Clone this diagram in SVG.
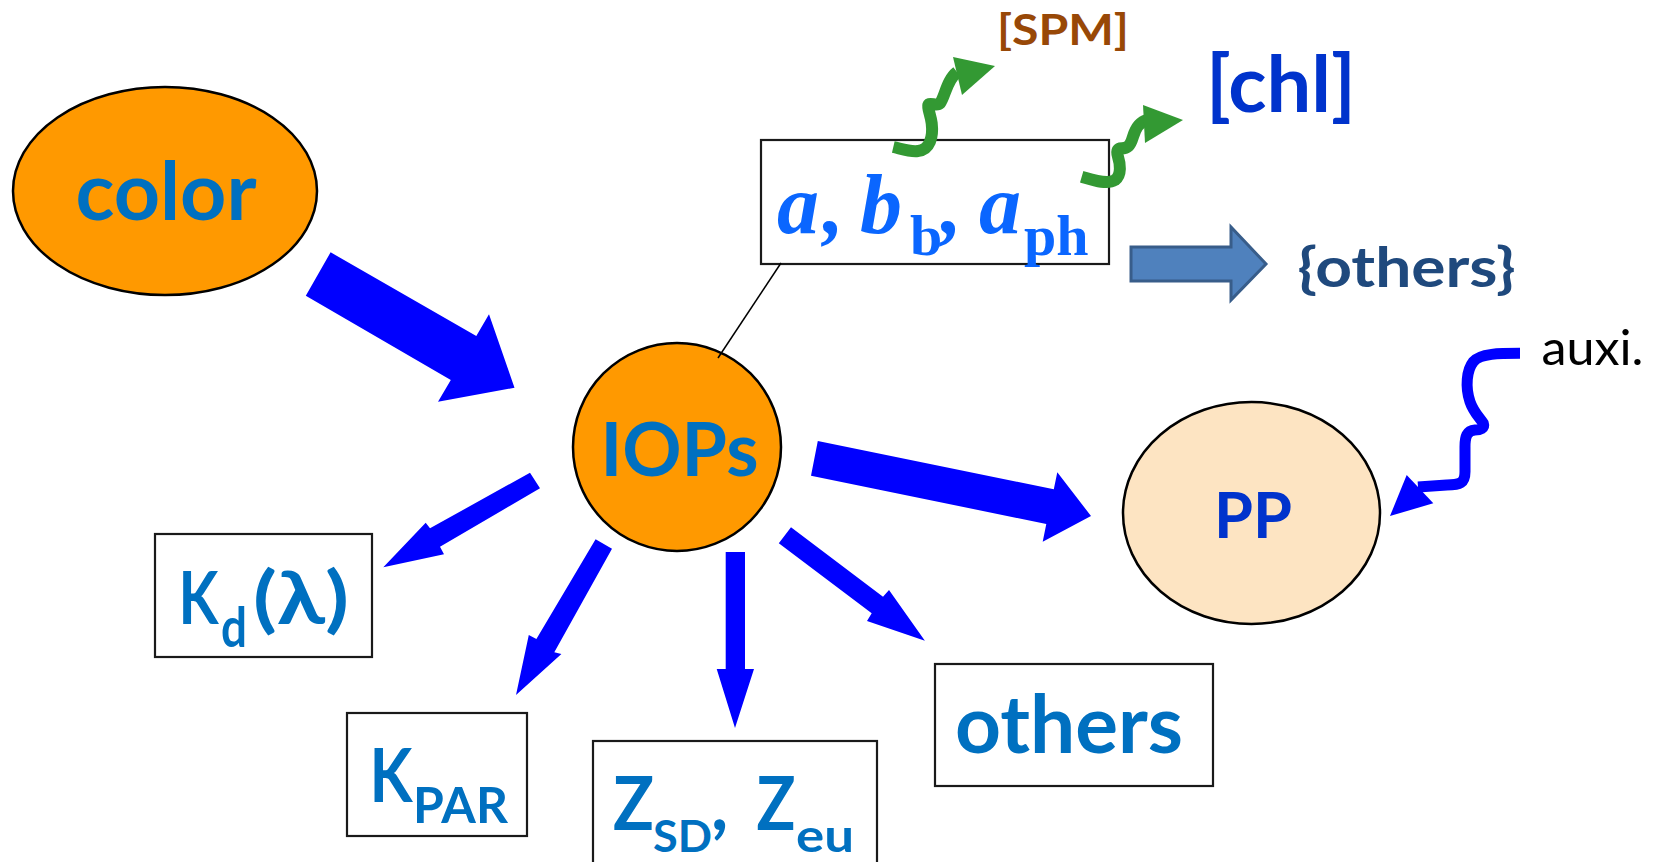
<svg xmlns="http://www.w3.org/2000/svg" width="1653" height="862" viewBox="0 0 1653 862">
  <style>
    .bg { fill: #ffffff; }
    .orange { fill: #ff9900; stroke: #000000; stroke-width: 2.5; }
    .peach { fill: #fde4c2; stroke: #000000; stroke-width: 2.5; }
    .box { fill: #ffffff; stroke: #1a1a1a; stroke-width: 2.2; }
    .flow { fill: #0000ff; }
    .wig-green { fill: none; stroke: #339933; stroke-width: 12; stroke-linejoin: round; }
    .head-green { fill: #339933; }
    .wig-blue { fill: none; stroke: #0000ff; stroke-width: 11; stroke-linejoin: round; }
    .link { stroke: #000000; stroke-width: 1.5; fill: none; }
    .block { fill: #4f81bd; stroke: #385d8a; stroke-width: 3; }
    .sans { font-family: Lato, "Open Sans", "Liberation Sans", sans-serif; font-weight: bold; }
    .lb { fill: #0070c0; }
    .db { fill: #0033cc; }
    .serif { font-family: "Liberation Serif", "Times New Roman", serif; font-weight: bold; fill: #0a66ff; }
    .it { font-style: italic; }
  </style>

  <rect class="bg" x="0" y="0" width="1653" height="862"/>

  <!-- nodes -->
  <g id="node-color">
    <ellipse class="orange" cx="165" cy="191" rx="152" ry="104"/>
    <text class="sans lb" x="166" y="220" font-size="80" text-anchor="middle" textLength="181" lengthAdjust="spacingAndGlyphs">color</text>
  </g>

  <g id="node-iops">
    <circle class="orange" cx="677" cy="447" r="104"/>
    <text class="sans lb" x="679.5" y="476" font-size="75" text-anchor="middle" textLength="158" lengthAdjust="spacingAndGlyphs">IOPs</text>
  </g>

  <g id="node-pp">
    <ellipse class="peach" cx="1251.5" cy="513" rx="128.5" ry="111"/>
    <text class="sans db" x="1253" y="538" font-size="64" text-anchor="middle" textLength="78" lengthAdjust="spacingAndGlyphs">PP</text>
  </g>

  <g id="node-absorption">
    <rect class="box" x="761" y="140" width="348" height="124"/>
    <text class="serif it" x="777" y="233" font-size="84">a</text>
    <text class="serif it" x="823" y="233" font-size="84">,</text>
    <text class="serif it" x="860" y="233" font-size="84">b</text>
    <text class="serif" x="910" y="255" font-size="58">b</text>
    <text class="serif it" x="941" y="233" font-size="84">,</text>
    <text class="serif it" x="979" y="233" font-size="84">a</text>
    <text class="serif" x="1024" y="255" font-size="58">ph</text>
  </g>

  <g id="node-kd">
    <rect class="box" x="155" y="534" width="217" height="123"/>
    <text class="sans lb" y="624" font-size="72"><tspan x="178.5" textLength="40" lengthAdjust="spacingAndGlyphs">K</tspan><tspan x="221" y="647" font-size="55" textLength="26" lengthAdjust="spacingAndGlyphs">d</tspan><tspan x="253" y="624" textLength="96" lengthAdjust="spacingAndGlyphs">(λ)</tspan></text>
  </g>

  <g id="node-kpar">
    <rect class="box" x="347" y="713" width="180" height="123"/>
    <text class="sans lb" x="391" y="802" font-size="75" text-anchor="middle" textLength="43" lengthAdjust="spacingAndGlyphs">K</text>
    <text class="sans lb" x="460.5" y="823" font-size="49" text-anchor="middle" textLength="95" lengthAdjust="spacingAndGlyphs">PAR</text>
  </g>

  <g id="node-depth">
    <rect class="box" x="593" y="741" width="284" height="150"/>
    <text class="sans lb" x="633.5" y="830" font-size="74" text-anchor="middle" textLength="41" lengthAdjust="spacingAndGlyphs">Z</text>
    <text class="sans lb" x="682.5" y="852" font-size="44" text-anchor="middle" textLength="59" lengthAdjust="spacingAndGlyphs">SD</text>
    <text class="sans lb" x="711" y="830" font-size="74">,</text>
    <text class="sans lb" x="776" y="830" font-size="74" text-anchor="middle" textLength="39" lengthAdjust="spacingAndGlyphs">Z</text>
    <text class="sans lb" x="825" y="852" font-size="46" text-anchor="middle" textLength="58" lengthAdjust="spacingAndGlyphs">eu</text>
  </g>

  <g id="node-others">
    <rect class="box" x="935" y="664" width="278" height="122"/>
    <text class="sans lb" x="1069" y="753" font-size="80" text-anchor="middle" textLength="228" lengthAdjust="spacingAndGlyphs">others</text>
  </g>

  <g id="node-spm">
    <text class="sans" x="1063" y="45" font-size="42" fill="#984807" text-anchor="middle" textLength="132" lengthAdjust="spacingAndGlyphs">[SPM]</text>
  </g>

  <g id="node-chl">
    <text class="sans db" x="1281" y="112" font-size="78" text-anchor="middle" textLength="150" lengthAdjust="spacingAndGlyphs">[chl]</text>
  </g>

  <g id="node-others-set">
    <text class="sans" x="1406.5" y="287" font-size="56" fill="#1f497d" text-anchor="middle" textLength="218" lengthAdjust="spacingAndGlyphs">{others}</text>
  </g>

  <g id="node-auxi">
    <text x="1592.5" y="365" font-family="Lato, 'Open Sans', 'Liberation Sans', sans-serif" font-size="49" fill="#000000" text-anchor="middle" textLength="102" lengthAdjust="spacingAndGlyphs">auxi.</text>
  </g>

  <!-- connectors, drawn over the node shapes -->
  <g id="connectors">
    <!-- color -> IOPs -->
    <polygon class="flow" points="330.6,252.3 476.3,336 489,314.3 514.5,387.7 438,401.7 450.8,380 305.8,295.7"/>
    <!-- IOPs -> PP -->
    <polygon class="flow" points="817.8,441 1053.8,489.3 1057.3,472.3 1091,516 1042.7,541.7 1046.3,524 811,475.7"/>
    <!-- IOPs -> others -->
    <polygon class="flow" points="791,527.3 883,596.7 889,590 924.9,640.7 867,621 871.7,613.3 778.8,543.3"/>
    <!-- IOPs -> Zsd, Zeu -->
    <polygon class="flow" points="725.7,552 745,552 745,669 754,669 735,728 716.7,669 725.7,669"/>
    <!-- IOPs -> KPAR -->
    <polygon class="flow" points="595.6,539.3 612,548.7 554.3,652.3 561.4,654 516,695 528.8,635 536.4,639"/>
    <!-- IOPs -> Kd -->
    <polygon class="flow" points="530,472.7 540,488.3 440,546.7 444,554.3 383.3,567.3 425.7,522.7 430,528.3"/>

    <!-- IOPs box link -->
    <line class="link" x1="781" y1="263" x2="718" y2="358"/>

    <!-- box -> [SPM] -->
    <path class="wig-green" d="M893.3,147 C902,149 910,152 918,151 C930,150 933.3,136.7 931.7,123.3 C930.7,115 927.3,108.3 928.3,105 C929.3,101.7 936.7,106.7 940,103.3 C945,96.7 946.7,80 957,72"/>
    <polygon class="head-green" points="953,57 995,66 962,95"/>
    <!-- box -> [chl] -->
    <path class="wig-green" d="M1081.7,176.7 C1093,180 1107,185 1115,180 C1122,175 1120,163 1118,156.7 C1116,150 1118,148.3 1121.7,148.3 C1127,148.3 1130,146.7 1133,136.7 C1136,126.7 1140,121.7 1147,120"/>
    <polygon class="head-green" points="1143,105 1183,120 1145,143"/>

    <!-- box -> {others} -->
    <polygon class="block" points="1131,247 1231,247 1231,227 1266,264 1231,300 1231,281 1131,281"/>

    <!-- auxi. -> PP -->
    <path class="wig-blue" d="M1520,353.3 C1500,353.3 1480,353.3 1473.3,361.7 C1466.7,370 1465,386.7 1470,401.7 C1473.3,411.7 1480,418.3 1483.3,423.3 C1485,428.3 1480,430 1475,430 C1466.7,430.7 1465,436.7 1465,446.7 L1465,471.7 C1465,483.3 1460,485 1446.7,485 L1418,487"/>
    <polygon class="flow" points="1406.7,475 1390,516 1433.3,503.3"/>
  </g>
</svg>
